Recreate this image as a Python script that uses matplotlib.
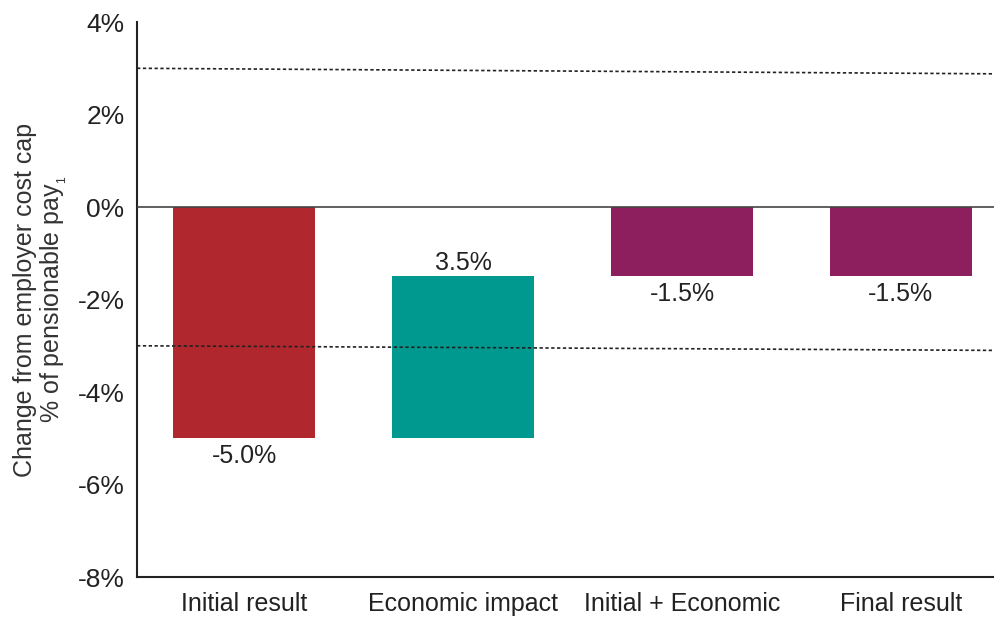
import matplotlib
matplotlib.use("Agg")
import matplotlib.pyplot as plt

plt.rcParams['font.family'] = ['Liberation Sans', 'DejaVu Sans']

categories = ["Initial result", "Economic impact", "Initial + Economic", "Final result"]
bar_tops = [0.0, -1.5, 0.0, 0.0]
bar_bottoms = [-5.0, -5.0, -1.5, -1.5]
labels = ["-5.0%", "3.5%", "-1.5%", "-1.5%"]
label_at_top = [False, True, False, False]
colors = ["#B0282D", "#00998F", "#8E1F5F", "#8E1F5F"]

# cost cap corridor (dotted), very slightly sloped in the original drawing
corridor_upper = (3.0, 2.88)
corridor_lower = (-3.0, -3.1)

yticks = [4, 2, 0, -2, -4, -6, -8]

fig = plt.figure(figsize=(9.95, 6.17), dpi=100)
ax = fig.add_axes([0.1377, 0.0648, 0.8623, 0.8995])

x = list(range(len(categories)))
heights = [t - b for t, b in zip(bar_tops, bar_bottoms)]
ax.bar(x, heights, bottom=bar_bottoms, width=0.65, color=colors, zorder=2)

for i in x:
    if label_at_top[i]:
        ax.text(i, bar_tops[i] + 0.02, labels[i], ha='center', va='bottom', fontsize=18, color='#222222')
    else:
        ax.text(i, bar_bottoms[i] - 0.12, labels[i], ha='center', va='top', fontsize=18, color='#222222')

xl = (-0.49, 3.43)
ax.plot(xl, corridor_upper, color='#222222', linestyle=(0, (2, 1.5)), linewidth=1.2, zorder=3)
ax.plot(xl, corridor_lower, color='#222222', linestyle=(0, (2, 1.5)), linewidth=1.2, zorder=3)
ax.axhline(0, color='#444444', linewidth=1.2, zorder=3)

ax.set_xlim(xl)
ax.set_ylim(-8, 4)
ax.set_yticks(yticks)
ax.set_yticklabels([f"{v}%" for v in yticks], fontsize=19, color='#222222')
ax.set_xticks(x)
ax.set_xticklabels(categories, fontsize=18, color='#222222')
ax.tick_params(axis='both', length=0)
ax.tick_params(axis='x', pad=11)
ax.tick_params(axis='y', pad=9)

for s in ['top', 'right']:
    ax.spines[s].set_visible(False)
for s in ['left', 'bottom']:
    ax.spines[s].set_color('#222222')
    ax.spines[s].set_linewidth(1.5)

ax.set_ylabel("Change from employer cost cap\n% of pensionable pay$_{_{\\mathregular{1}}}$", fontsize=18,
              color='#333333', linespacing=1.1, labelpad=6)

fig.savefig("out.png", dpi=100)
